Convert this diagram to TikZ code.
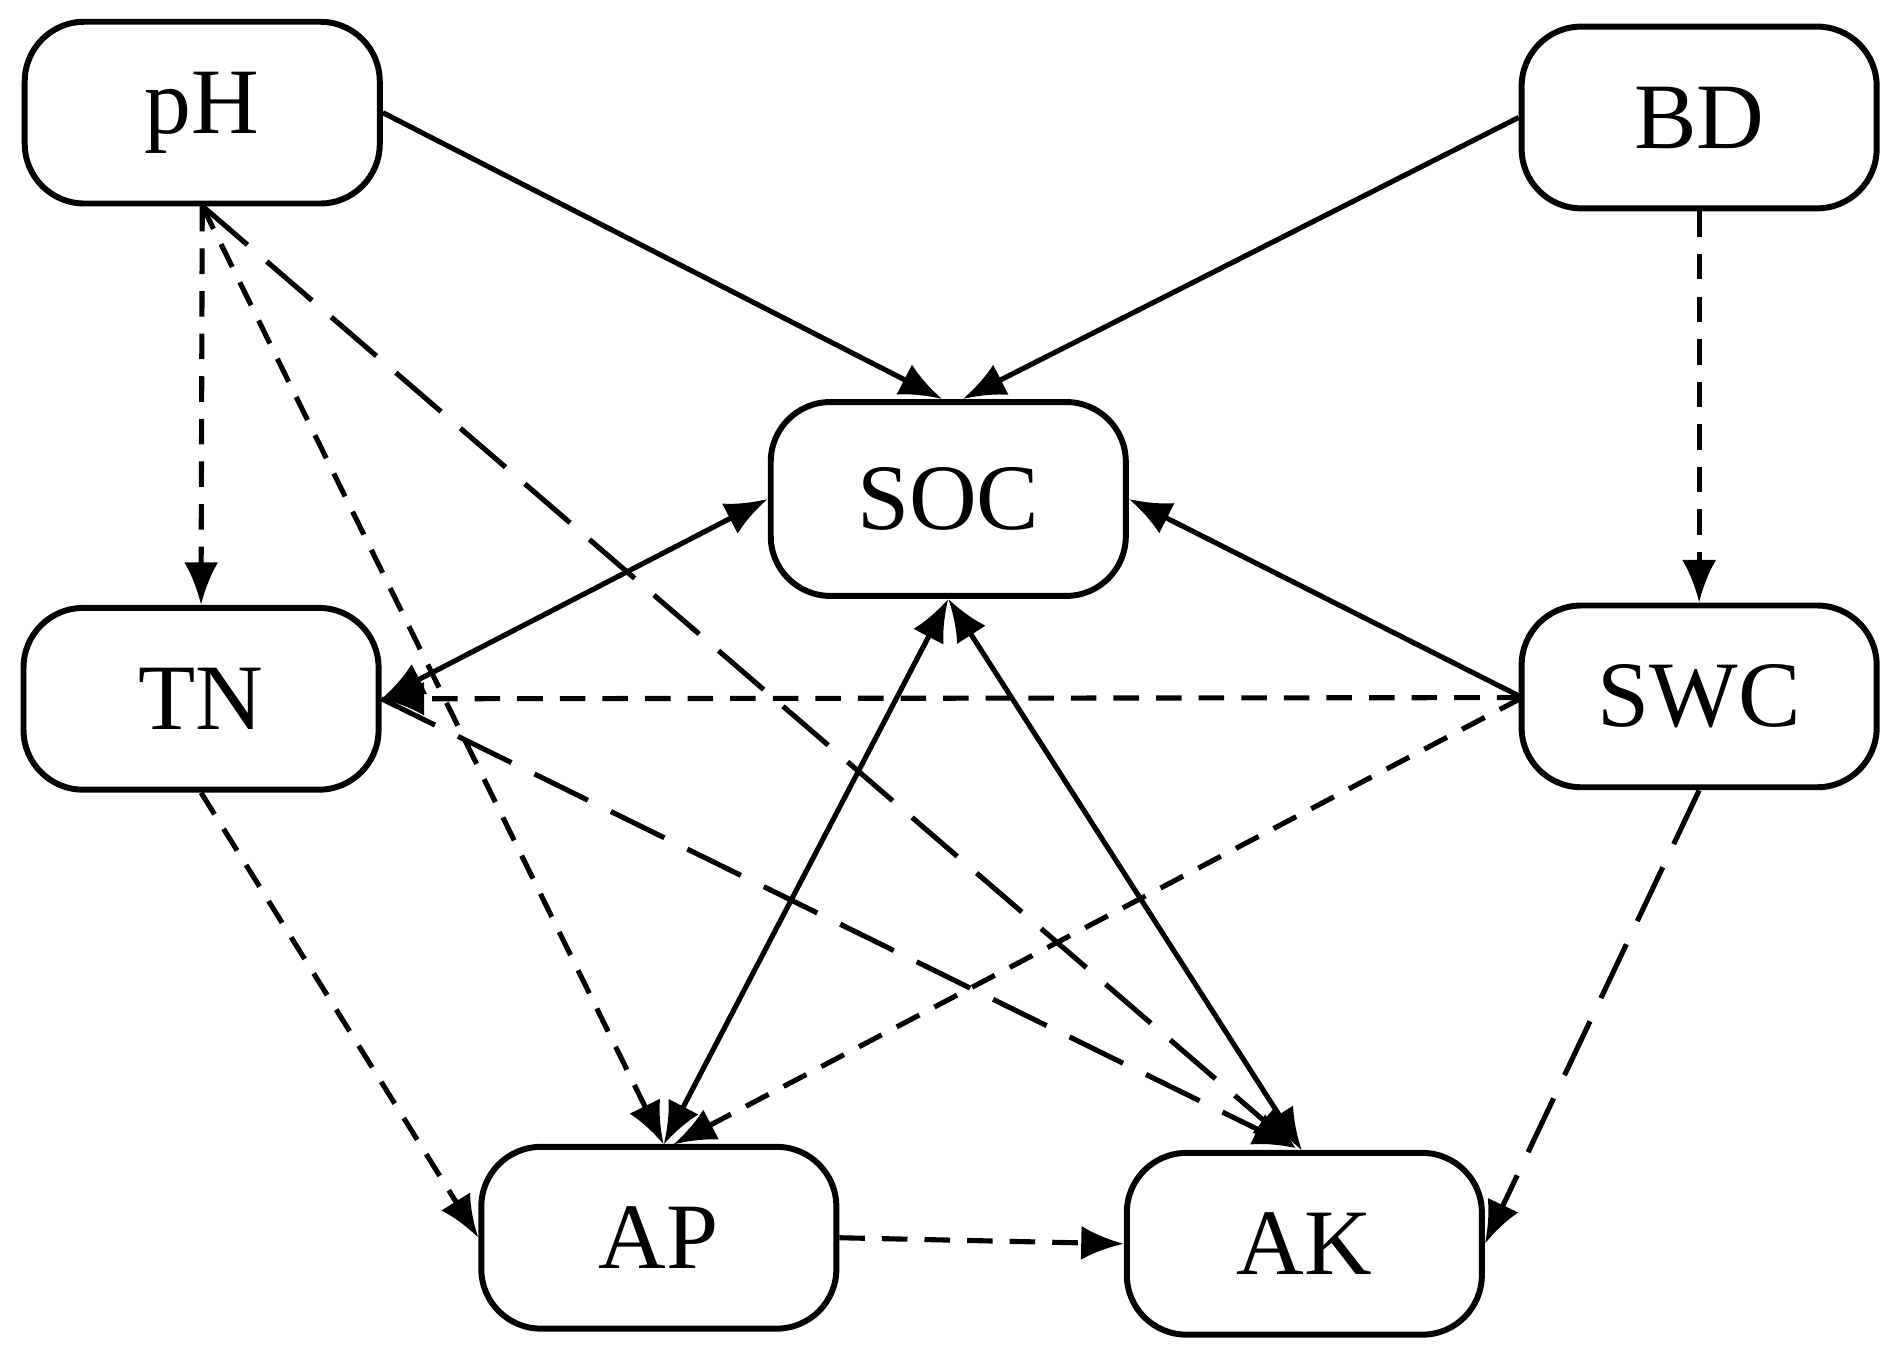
\documentclass[tikz,border=0pt]{standalone}
\usepackage{fontspec}
\setmainfont{Liberation Serif}
\usetikzlibrary{arrows.meta}
\begin{document}
\begin{tikzpicture}[x=0.01cm,y=-0.01cm,
 box/.style={draw,line width=1.4pt,rounded corners=14pt,minimum width=2.93cm,minimum height=1.5cm,font=\fontsize{22}{26}\selectfont},
 e/.style={line width=1.2pt,-{Latex[length=10pt,width=8pt]}},
 sd/.style={dash pattern=on 6pt off 4pt},
 ld/.style={dash pattern=on 14pt off 6pt}]
\useasboundingbox (0,0) rectangle (1568,1115);
\node[box] (pH) at (167,93) {pH};
\node[box] (BD) at (1403,97) {BD};
\node[box,minimum height=1.6cm] (SOC) at (783,412) {SOC};
\node[box] (TN) at (166,577) {TN};
\node[box] (SWC) at (1403,575) {SWC};
\node[box] (AP) at (544,1022) {AP};
\node[box] (AK) at (1077,1027) {AK};
\coordinate (pHb) at (167,170);
\coordinate (swl) at (1257,576);
\draw[e] (pH.east) -- (SOC.north -| 778,0);
\draw[e] (BD.west) -- (SOC.north -| 795,0);
\draw[e,sd] (BD.south) -- (SWC.north);
\draw[e,sd] (pHb) -- (TN.north);
\draw[e,{Latex[length=10pt,width=8pt]}-{Latex[length=10pt,width=8pt]}] (SOC.west) -- (TN.east);
\draw[e] (swl) -- (SOC.east);
\draw[e,sd] (swl) -- (TN.east);
\draw[e,sd] (pHb) -- (548,945);
\draw[e,ld] (pHb) -- (1070,948);
\draw[e,ld] (TN.east) -- (1070,948);
\draw[e,{Latex[length=10pt,width=8pt]}-{Latex[length=10pt,width=8pt]}] (SOC.south) -- (548,945);
\draw[e,{Latex[length=10pt,width=8pt]}-{Latex[length=10pt,width=8pt]}] (SOC.south) -- (1075,950);
\draw[e,sd] (swl) -- (556,945);
\draw[e,sd] (TN.south) -- (AP.west);
\draw[e,ld] (SWC.south) -- (AK.east);
\draw[e,sd] (AP.east) -- (AK.west);
\end{tikzpicture}
\end{document}
